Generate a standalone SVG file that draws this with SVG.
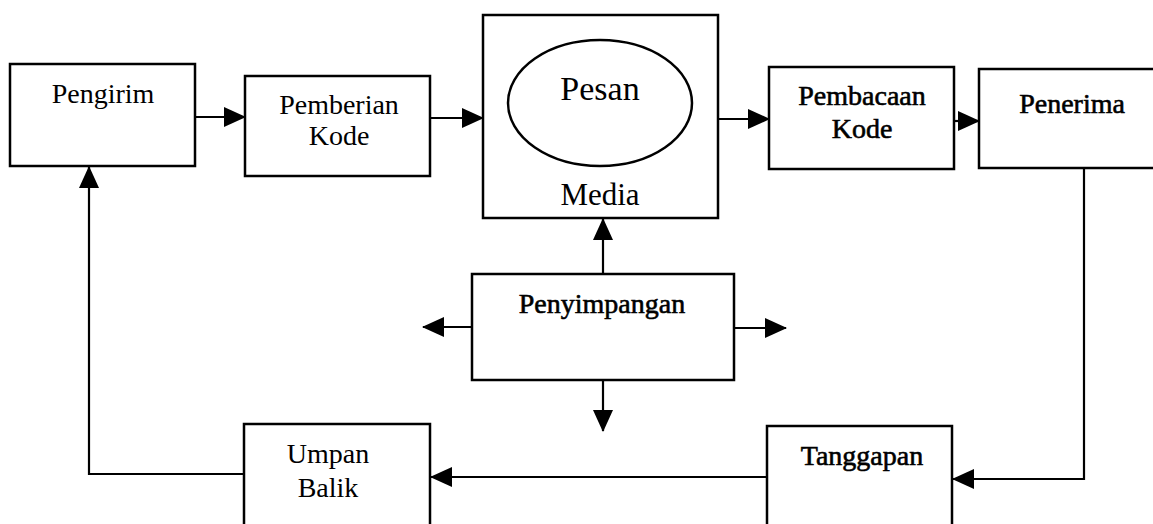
<svg xmlns="http://www.w3.org/2000/svg" width="1153" height="524" viewBox="0 0 1153 524">
  <style>
    .box { fill: #fff; stroke: #000; stroke-width: 2.5; }
    .lbl { font-family: "Liberation Serif", "Times New Roman", serif; font-size: 28px; fill: #000; text-anchor: middle; }
    .heavy { stroke: #000; stroke-width: 0.6; }
    .conn { fill: none; stroke: #000; stroke-width: 2.2; marker-end: url(#arr); }
  </style>
  <defs>
    <marker id="arr" markerUnits="userSpaceOnUse" markerWidth="22" markerHeight="20" viewBox="0 0 22 20" refX="21" refY="10" orient="auto">
      <path d="M0,0 L22,10 L0,20 Z" fill="#000"/>
    </marker>
  </defs>
  <rect width="1153" height="524" fill="#fff"/>

  <g id="connectors">
    <path class="conn" d="M195,117 H245"/>
    <path class="conn" d="M430,118 H483"/>
    <path class="conn" d="M718,119 H769"/>
    <path class="conn" d="M954,121 H979"/>
    <path class="conn" d="M603,274 V219"/>
    <path class="conn" d="M472,327 H423"/>
    <path class="conn" d="M734,328 H786"/>
    <path class="conn" d="M603,380 V431"/>
    <path class="conn" d="M1084,168 V479 H953"/>
    <path class="conn" d="M767,477 H431"/>
    <path class="conn" d="M244,474 H89 V167"/>
  </g>

  <g id="pengirim">
    <rect class="box" x="10" y="64" width="185" height="102"/>
    <text class="lbl" x="103" y="103">Pengirim</text>
  </g>
  <g id="pemberian-kode">
    <rect class="box" x="245" y="76" width="185" height="100"/>
    <text class="lbl" x="339" y="114">Pemberian</text>
    <text class="lbl" x="339" y="145">Kode</text>
  </g>
  <g id="media">
    <rect class="box" x="483" y="15" width="235" height="203"/>
    <ellipse cx="600" cy="103" rx="92" ry="63" fill="none" stroke="#000" stroke-width="2.5"/>
    <text class="lbl" x="600" y="100" style="font-size:34px">Pesan</text>
    <text class="lbl" x="600" y="205" style="font-size:31px">Media</text>
  </g>
  <g id="pembacaan-kode">
    <rect class="box" x="769" y="67" width="185" height="102"/>
    <text class="lbl heavy" x="862" y="105">Pembacaan</text>
    <text class="lbl heavy" x="862" y="138">Kode</text>
  </g>
  <g id="penerima">
    <rect class="box" x="979" y="69" width="190" height="99"/>
    <text class="lbl heavy" x="1072" y="113">Penerima</text>
  </g>
  <g id="penyimpangan">
    <rect class="box" x="472" y="274" width="262" height="106"/>
    <text class="lbl heavy" x="602" y="313">Penyimpangan</text>
  </g>
  <g id="umpan-balik">
    <rect class="box" x="244" y="424" width="186" height="120"/>
    <text class="lbl" x="328" y="463">Umpan</text>
    <text class="lbl" x="328" y="497">Balik</text>
  </g>
  <g id="tanggapan">
    <rect class="box" x="767" y="426" width="185" height="120"/>
    <text class="lbl heavy" x="862" y="465">Tanggapan</text>
  </g>
</svg>
